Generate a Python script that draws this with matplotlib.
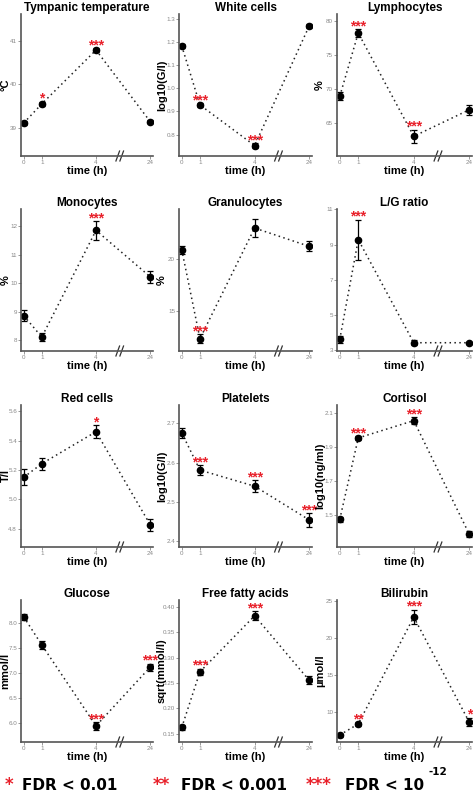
import matplotlib
matplotlib.use('Agg')
import matplotlib.pyplot as plt

plt.rcParams['font.family'] = ['Liberation Sans', 'DejaVu Sans']

W, H = 473, 796

# sampling times (h); 24 h sits after an axis break
hours = [0, 1, 4, 24]
hour_labels = ['0', '1', '4', '24']

titles = ['Tympanic temperature', 'White cells', 'Lymphocytes',
          'Monocytes', 'Granulocytes', 'L/G ratio',
          'Red cells', 'Platelets', 'Cortisol',
          'Glucose', 'Free fatty acids', 'Bilirubin']
ylabels = ['°C', 'log10(G/l)', '%',
           '%', '%', '',
           'T/l', 'log10(G/l)', 'log10(ng/ml)',
           'mmol/l', 'sqrt(mmol/l)', 'µmol/l']

temp_mean = [39.11, 39.55, 40.79, 39.14]
temp_err = [0.04, 0.05, 0.04, 0.03]
temp_stars = ['', '*', '***', '']

wbc_mean = [1.183, 0.928, 0.753, 1.269]
wbc_err = [0.008, 0.008, 0.012, 0.008]
wbc_stars = ['', '***', '***', '']

lymph_mean = [68.9, 78.2, 63.0, 66.9]
lymph_err = [0.6, 0.6, 1.0, 0.7]
lymph_stars = ['', '***', '***', '']

mono_mean = [8.86, 8.11, 11.85, 10.22]
mono_err = [0.2, 0.15, 0.33, 0.22]
mono_stars = ['', '', '***', '']

gran_mean = [20.95, 12.3, 23.05, 21.27]
gran_err = [0.4, 0.45, 0.9, 0.5]
gran_stars = ['', '***', '', '']

lg_mean = [3.62, 9.28, 3.43, 3.43]
lg_err = [0.2, 1.14, 0.15, 0.05]
lg_stars = ['', '***', '', '']

rbc_mean = [5.151, 5.244, 5.462, 4.827]
rbc_err = [0.055, 0.04, 0.045, 0.04]
rbc_stars = ['', '', '*', '']

plt_mean = [2.676, 2.581, 2.54, 2.454]
plt_err = [0.012, 0.012, 0.015, 0.017]
plt_stars = ['', '***', '***', '***']

cort_mean = [1.475, 1.954, 2.056, 1.388]
cort_err = [0.015, 0.01, 0.02, 0.02]
cort_stars = ['', '***', '***', '']

glu_mean = [8.13, 7.565, 5.935, 7.12]
glu_err = [0.06, 0.08, 0.08, 0.07]
glu_stars = ['', '', '***', '***']

ffa_mean = [0.1625, 0.272, 0.382, 0.255]
ffa_err = [0.004, 0.006, 0.009, 0.008]
ffa_stars = ['', '***', '***', '']

bili_mean = [6.9, 8.4, 22.8, 8.65]
bili_err = [0.2, 0.25, 1.0, 0.6]
bili_stars = ['', '**', '***', '*']

means = [temp_mean, wbc_mean, lymph_mean, mono_mean, gran_mean, lg_mean,
         rbc_mean, plt_mean, cort_mean, glu_mean, ffa_mean, bili_mean]
errs = [temp_err, wbc_err, lymph_err, mono_err, gran_err, lg_err,
        rbc_err, plt_err, cort_err, glu_err, ffa_err, bili_err]
stars = [temp_stars, wbc_stars, lymph_stars, mono_stars, gran_stars, lg_stars,
         rbc_stars, plt_stars, cort_stars, glu_stars, ffa_stars, bili_stars]

yticks = [[39, 40, 41], [0.8, 0.9, 1.0, 1.1, 1.2, 1.3], [65, 70, 75, 80],
          [8, 9, 10, 11, 12], [15, 20], [3, 5, 7, 9, 11],
          [4.8, 5.0, 5.2, 5.4, 5.6], [2.4, 2.5, 2.6, 2.7], [1.5, 1.7, 1.9, 2.1],
          [6.0, 6.5, 7.0, 7.5, 8.0], [0.15, 0.20, 0.25, 0.30, 0.35, 0.40], [10, 15, 20, 25]]
yfmt = ['%d', '%.1f', '%d', '%d', '%d', '%d',
        '%.1f', '%.1f', '%.1f', '%.1f', '%.2f', '%d']
ylims = [(38.35, 41.62), (0.708, 1.32), (60.1, 81.0),
         (7.62, 12.6), (11.1, 24.9), (2.96, 11.02),
         (4.676, 5.644), (2.385, 2.747), (1.312, 2.148),
         (5.61, 8.47), (0.134, 0.413), (5.96, 25.1)]


def xpos(h):
    # broken time axis: 24 h drawn right after the break
    return h if h <= 4 else 7


col_left = [21, 179, 337]
col_width = [132, 133, 135]
col_ylabel_x = [-0.078, -0.09, -0.09]
row_top = [14, 209, 405, 600]
ax_h = 142

fig = plt.figure(figsize=(W / 100, H / 100), dpi=100)

for i in range(12):
    r, c = divmod(i, 3)
    left = col_left[c]
    top = row_top[r]
    ax = fig.add_axes([left / W, 1 - (top + ax_h) / H, col_width[c] / W, ax_h / H])
    x = [xpos(h) for h in hours]
    ax.plot(x, means[i], ls=(0, (1, 2.2)), color='#222222', lw=1.1)
    ax.errorbar(x, means[i], yerr=errs[i], fmt='o', color='black', ms=4.5,
                capsize=2, elinewidth=0.9, capthick=0.9)
    for xi, m, e, s in zip(x, means[i], errs[i], stars[i]):
        if s:
            ax.annotate(s, (xi, m + e), xytext=(0, 2), textcoords='offset points',
                        ha='center', va='center', color='#e8202a', fontsize=10,
                        fontweight='bold', annotation_clip=False)
    ax.set_xlim(-0.15, 7.15)
    ax.set_ylim(*ylims[i])
    ax.set_xticks([xpos(h) for h in hours])
    ax.set_xticklabels(hour_labels)
    ax.set_yticks(yticks[i])
    ax.set_yticklabels([yfmt[i] % v for v in yticks[i]])
    ax.tick_params(labelsize=4.5, labelcolor='#888888', length=2, width=0.6,
                   color='#888888', pad=0.8)
    for side in ['top', 'right']:
        ax.spines[side].set_visible(False)
    for side in ['left', 'bottom']:
        ax.spines[side].set_color('#555555')
        ax.spines[side].set_linewidth(1.2)
    # axis break marks
    tr = ax.get_xaxis_transform()
    for bx in [5.2, 5.42]:
        ax.plot([bx - 0.1, bx + 0.1], [-0.035, 0.035], color='#333333', lw=0.9,
                transform=tr, clip_on=False)
    ax.set_title(titles[i], fontweight='bold', fontsize=8.5, pad=1)
    ax.set_xlabel('time (h)', fontweight='bold', fontsize=8, labelpad=1)
    if ylabels[i]:
        ax.set_ylabel(ylabels[i], fontweight='bold', fontsize=8)
        ax.yaxis.set_label_coords(col_ylabel_x[c], 0.5)

# significance legend
ly = 1 - 785 / H
fig.text(5 / W, ly, '*', color='#e8202a', fontsize=12, fontweight='bold', va='center',
         family='DejaVu Sans')
fig.text(22 / W, ly, 'FDR < 0.01', color='black', fontsize=11, fontweight='bold',
         va='center', family='DejaVu Sans')
fig.text(153 / W, ly, '**', color='#e8202a', fontsize=12, fontweight='bold', va='center',
         family='DejaVu Sans')
fig.text(181 / W, ly, 'FDR < 0.001', color='black', fontsize=11, fontweight='bold',
         va='center', family='DejaVu Sans')
fig.text(306 / W, ly, '***', color='#e8202a', fontsize=12, fontweight='bold', va='center',
         family='DejaVu Sans')
fig.text(345 / W, ly, 'FDR < 10', color='black', fontsize=11, fontweight='bold',
         va='center', family='DejaVu Sans')
fig.text(428 / W, 1 - 772 / H, '-12', color='black', fontsize=7.5, fontweight='bold',
         va='center', family='DejaVu Sans')

fig.savefig('out.png', dpi=100)
